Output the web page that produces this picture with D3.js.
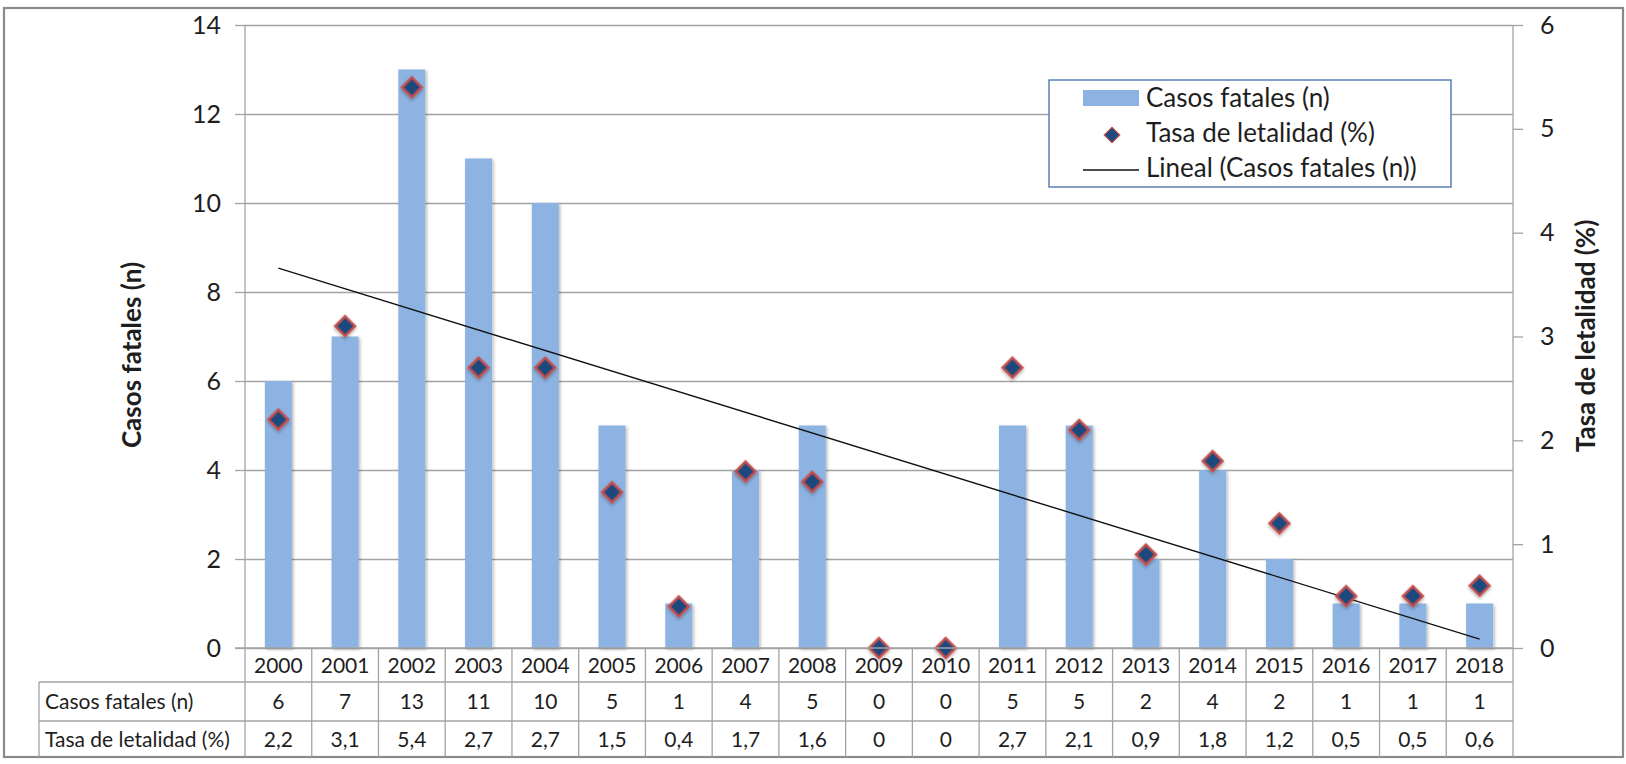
<!DOCTYPE html>
<html>
<head>
<meta charset="utf-8">
<script src="https://cdn.jsdelivr.net/npm/d3@7"></script>
<style>
  body { margin: 0; background: #fff; }
  svg { display: block; }
  text { font-family: Lato, "Open Sans", "DejaVu Sans", sans-serif; fill: #1e1e1e; }
</style>
</head>
<body>
<svg id="chart" width="1626" height="764"></svg>
<script>
// Years and series
const years = ["2000","2001","2002","2003","2004","2005","2006","2007","2008","2009",
               "2010","2011","2012","2013","2014","2015","2016","2017","2018"];
const fatalCases = [6, 7, 13, 11, 10, 5, 1, 4, 5, 0, 0, 5, 5, 2, 4, 2, 1, 1, 1];
const fatalityRate = [2.2, 3.1, 5.4, 2.7, 2.7, 1.5, 0.4, 1.7, 1.6, 0, 0, 2.7, 2.1, 0.9, 1.8, 1.2, 0.5, 0.5, 0.6];
const leftTicks = [0, 2, 4, 6, 8, 10, 12, 14];
const rightTicks = [0, 1, 2, 3, 4, 5, 6];
const seriesNames = ["Casos fatales (n)", "Tasa de letalidad (%)", "Lineal (Casos fatales (n))"];
const axisTitles = ["Casos fatales (n)", "Tasa de letalidad (%)"];

const W = 1626, H = 764;
const plot = { left: 245, right: 1513, top: 25, bottom: 648 };
const table = { left: 39, rows: [648, 682, 721, 757] };

const svg = d3.select("#chart");

const defs = svg.append("defs");
const shadow = defs.append("filter").attr("id", "soft").attr("x", "-30%").attr("y", "-30%")
  .attr("width", "160%").attr("height", "160%");
shadow.append("feDropShadow").attr("dx", 1.5).attr("dy", 1.5).attr("stdDeviation", 1.6)
  .attr("flood-color", "#000").attr("flood-opacity", 0.28);

// Outer frame
svg.append("rect").attr("x", 4).attr("y", 8).attr("width", 1619).attr("height", 749)
  .attr("fill", "#fff").attr("stroke", "#8a8a8a").attr("stroke-width", 2.2);

// Scales
const xCat = d3.scaleBand().domain(years).range([plot.left, plot.right]).padding(0);
const xBar = d3.scaleBand().domain(years).range([plot.left, plot.right])
  .paddingInner(0.595).paddingOuter(0.2975);
const yL = d3.scaleLinear().domain([0, 14]).range([plot.bottom, plot.top]);
const yR = d3.scaleLinear().domain([0, 6]).range([plot.bottom, plot.top]);

const gridColor = "#a3a3a3";

// Horizontal gridlines
const grid = svg.append("g").attr("transform", `translate(${plot.left},0)`)
  .call(d3.axisLeft(yL).tickValues(leftTicks).tickSize(-(plot.right - plot.left)).tickFormat(""));
grid.select(".domain").remove();
grid.selectAll("line").attr("stroke", gridColor).attr("stroke-width", 1.3);

// Left axis
const axL = svg.append("g").attr("transform", `translate(${plot.left},0)`)
  .call(d3.axisLeft(yL).tickValues(leftTicks).tickSize(10).tickPadding(14).tickFormat(d3.format("d")));
axL.select(".domain").attr("stroke", gridColor).attr("stroke-width", 1.3)
  .attr("d", `M0,${plot.top}V${plot.bottom}`);
axL.selectAll("line").attr("stroke", gridColor).attr("stroke-width", 1.3);
axL.selectAll("text").attr("font-size", 25).style("font-family", "Lato, sans-serif").attr("fill", "#1e1e1e");

// Right axis
const axR = svg.append("g").attr("transform", `translate(${plot.right},0)`)
  .call(d3.axisRight(yR).tickValues(rightTicks).tickSize(10).tickPadding(17).tickFormat(d3.format("d")));
axR.select(".domain").attr("stroke", gridColor).attr("stroke-width", 1.3)
  .attr("d", `M0,${plot.top}V${table.rows[3]}`);
axR.selectAll("line").attr("stroke", gridColor).attr("stroke-width", 1.3);
axR.selectAll("text").attr("font-size", 25).style("font-family", "Lato, sans-serif").attr("fill", "#1e1e1e");

// Axis titles
svg.append("text").attr("transform", "translate(141,355) rotate(-90)")
  .attr("text-anchor", "middle").attr("font-size", 26).attr("font-weight", 700)
  .text(axisTitles[0]);
svg.append("text").attr("transform", "translate(1595,336) rotate(-90)")
  .attr("text-anchor", "middle").attr("font-size", 26).attr("font-weight", 700)
  .text(axisTitles[1]);

// Bars
svg.append("g").selectAll("rect").data(years).join("rect")
  .attr("x", d => xBar(d))
  .attr("y", (d, i) => yL(fatalCases[i]))
  .attr("width", xBar.bandwidth())
  .attr("height", (d, i) => yL(0) - yL(fatalCases[i]))
  .attr("fill", "#8db3e2")
  .attr("filter", "url(#soft)");

// Linear trend of fatal cases
const xs = years.map((d, i) => i + 1);
const mx = d3.mean(xs), my = d3.mean(fatalCases);
const slope = d3.sum(xs, (x, i) => (x - mx) * (fatalCases[i] - my)) / d3.sum(xs, x => (x - mx) ** 2);
const intercept = my - slope * mx;
const trend = years.map((d, i) => [xCat(d) + xCat.bandwidth() / 2, yL(intercept + slope * xs[i])]);
svg.append("path")
  .attr("d", d3.line()([trend[0], trend[trend.length - 1]]))
  .attr("stroke", "#111").attr("stroke-width", 1.4).attr("fill", "none");

// Fatality rate markers
const diamond = d3.symbol().type(d3.symbolSquare).size(195);
svg.append("g").selectAll("path").data(years).join("path")
  .attr("d", diamond)
  .attr("transform", (d, i) => `translate(${xCat(d) + xCat.bandwidth() / 2},${yR(fatalityRate[i])}) rotate(45)`)
  .attr("fill", "#1f497d").attr("stroke", "#c0504d").attr("stroke-width", 2.6)
  .attr("filter", "url(#soft)");

// Data table below the plot
const tbl = svg.append("g");
const lineColor = "#a3a3a3";
[table.rows[1], table.rows[2]].forEach(y => {
  tbl.append("line").attr("x1", table.left).attr("x2", plot.right).attr("y1", y).attr("y2", y)
    .attr("stroke", lineColor).attr("stroke-width", 1.3);
});
tbl.append("line").attr("x1", plot.left - 10).attr("x2", plot.right)
  .attr("y1", plot.bottom).attr("y2", plot.bottom).attr("stroke", lineColor).attr("stroke-width", 1.3);
tbl.append("line").attr("x1", table.left).attr("x2", table.left)
  .attr("y1", table.rows[1]).attr("y2", table.rows[3]).attr("stroke", lineColor).attr("stroke-width", 1.3);
years.forEach(d => {
  tbl.append("line").attr("x1", xCat(d)).attr("x2", xCat(d))
    .attr("y1", table.rows[0]).attr("y2", table.rows[3]).attr("stroke", lineColor).attr("stroke-width", 1.3);
});

const fmtRate = v => v === 0 ? "0" : v.toFixed(1).replace(".", ",");
const rowMid = i => (table.rows[i] + table.rows[i + 1]) / 2;

tbl.selectAll("text.year").data(years).join("text").attr("class", "year")
  .attr("x", d => xCat(d) + xCat.bandwidth() / 2).attr("y", rowMid(0))
  .attr("dy", "0.36em").attr("text-anchor", "middle").attr("font-size", 21).text(d => d);
tbl.selectAll("text.cases").data(years).join("text").attr("class", "cases")
  .attr("x", d => xCat(d) + xCat.bandwidth() / 2).attr("y", rowMid(1))
  .attr("dy", "0.36em").attr("text-anchor", "middle").attr("font-size", 21)
  .text((d, i) => fatalCases[i]);
tbl.selectAll("text.rate").data(years).join("text").attr("class", "rate")
  .attr("x", d => xCat(d) + xCat.bandwidth() / 2).attr("y", rowMid(2))
  .attr("dy", "0.36em").attr("text-anchor", "middle").attr("font-size", 21)
  .text((d, i) => fmtRate(fatalityRate[i]));
tbl.append("text").attr("x", table.left + 6).attr("y", rowMid(1)).attr("dy", "0.36em")
  .attr("font-size", 21).text(seriesNames[0]);
tbl.append("text").attr("x", table.left + 6).attr("y", rowMid(2)).attr("dy", "0.36em")
  .attr("font-size", 21).text(seriesNames[1]);

// Legend
const lg = svg.append("g").attr("transform", "translate(1049,80)");
lg.append("rect").attr("width", 402).attr("height", 107)
  .attr("fill", "#fff").attr("stroke", "#4f77b0").attr("stroke-width", 1.4);
lg.append("rect").attr("x", 34).attr("y", 10).attr("width", 56).attr("height", 16).attr("fill", "#8db3e2");
lg.append("path").attr("d", d3.symbol().type(d3.symbolSquare).size(120)())
  .attr("transform", "translate(63,55) rotate(45)")
  .attr("fill", "#1f497d").attr("stroke", "#c0504d").attr("stroke-width", 1.2);
lg.append("line").attr("x1", 34).attr("x2", 90).attr("y1", 90).attr("y2", 90)
  .attr("stroke", "#111").attr("stroke-width", 1.4);
seriesNames.forEach((name, i) => {
  lg.append("text").attr("x", 97).attr("y", 18 + i * 35).attr("dy", "0.36em")
    .attr("font-size", 26).text(name);
});
</script>
</body>
</html>
